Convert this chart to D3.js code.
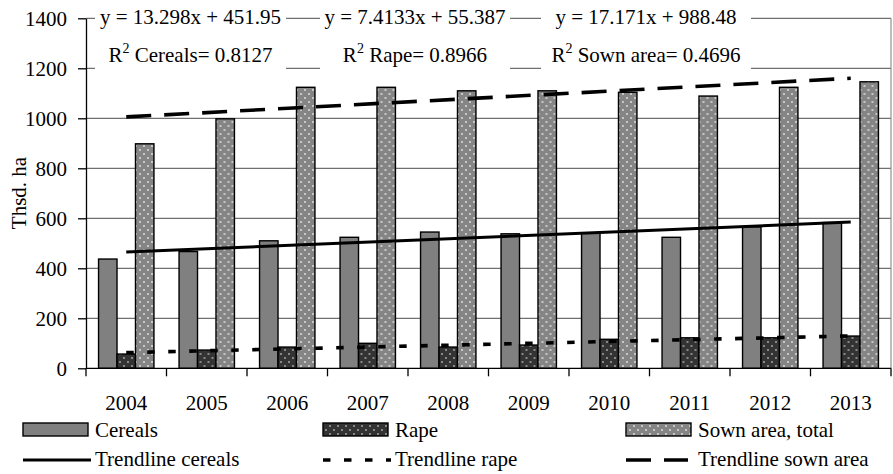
<!DOCTYPE html>
<html>
<head>
<meta charset="utf-8">
<script src="https://cdn.jsdelivr.net/npm/d3@7"></script>
<style>
  body { margin: 0; background: #fff; }
  svg { display: block; font-family: "Liberation Serif", "Times New Roman", serif; }
</style>
</head>
<body>
<svg width="893" height="474"></svg>
<script>
const years = ["2004", "2005", "2006", "2007", "2008", "2009", "2010", "2011", "2012", "2013"];
const cereals = [437, 467, 510, 524, 545, 538, 540, 524, 566, 583];
const rape = [57, 73, 85, 100, 85, 93, 116, 122, 122, 129];
const sownArea = [898, 998, 1124, 1124, 1110, 1110, 1104, 1089, 1124, 1146];

// trendline values at first and last year (match the equations shown)
const trendCereals = [465.2, 584.9];
const trendRape = [62.8, 129.5];
const trendSown = [1005.7, 1160.2];

const yTicks = [0, 200, 400, 600, 800, 1000, 1200, 1400];

const equations = ["y = 13.298x + 451.95", "y = 7.4133x + 55.387", "y = 17.171x + 988.48"];
const r2Names = ["Cereals", "Rape", "Sown area"];
const r2Values = ["0.8127", "0.8966", "0.4696"];

const svg = d3.select("svg");
const plotLeft = 86, plotRight = 891, plotTop = 18.3, plotBottom = 368.3;

const x0 = d3.scaleBand().domain(years).range([plotLeft, plotRight]).padding(0);
const seriesKeys = ["cereals", "rape", "sown"];
const x1 = d3.scaleBand().domain(seriesKeys).range([0, x0.bandwidth()]).paddingInner(0).paddingOuter(0.68);
const y = d3.scaleLinear().domain([0, 1400]).range([plotBottom, plotTop]);

// patterns
const defs = svg.append("defs");
function dots(id, bg, dot) {
  const p = defs.append("pattern").attr("id", id).attr("patternUnits", "userSpaceOnUse")
    .attr("width", 8).attr("height", 8);
  p.append("rect").attr("width", 8).attr("height", 8).attr("fill", bg);
  p.append("circle").attr("cx", 2).attr("cy", 2).attr("r", 0.9).attr("fill", dot);
  p.append("circle").attr("cx", 6).attr("cy", 6).attr("r", 0.9).attr("fill", dot);
}
dots("rapeFill", "#333", "#b0b0b0");
dots("sownFill", "#858585", "#e6e6e6");
const fills = { cereals: "#808080", rape: "url(#rapeFill)", sown: "url(#sownFill)" };

// gridlines
svg.append("g").selectAll("line").data(yTicks.slice(1)).join("line")
  .attr("x1", plotLeft).attr("x2", plotRight)
  .attr("y1", d => y(d)).attr("y2", d => y(d))
  .attr("stroke", "#707070").attr("stroke-width", 1.2);
svg.append("line").attr("x1", plotRight).attr("x2", plotRight).attr("y1", plotTop).attr("y2", plotBottom)
  .attr("stroke", "#909090").attr("stroke-width", 1.2);

// bars
const rows = years.map((yr, i) => ({ year: yr, cereals: cereals[i], rape: rape[i], sown: sownArea[i] }));
const groups = svg.append("g").selectAll("g").data(rows).join("g")
  .attr("transform", d => `translate(${x0(d.year)},0)`);
groups.selectAll("rect").data(d => seriesKeys.map(k => ({ key: k, value: d[k] }))).join("rect")
  .attr("x", d => x1(d.key))
  .attr("y", d => y(d.value))
  .attr("width", x1.bandwidth())
  .attr("height", d => y(0) - y(d.value))
  .attr("fill", d => fills[d.key])
  .attr("stroke", "#000").attr("stroke-width", 1.4);

// trendlines
const xc = yr => x0(yr) + x0.bandwidth() / 2;
function trend(vals, dash) {
  svg.append("line")
    .attr("x1", xc(years[0])).attr("x2", xc(years[years.length - 1]))
    .attr("y1", y(vals[0])).attr("y2", y(vals[1]))
    .attr("stroke", "#000").attr("stroke-width", dash ? 3.6 : 3)
    .attr("stroke-dasharray", dash);
}
trend(trendCereals, null);
trend(trendRape, "7.5,13.5");
trend(trendSown, "25,13");

// axes
const yAxis = svg.append("g").attr("transform", `translate(${plotLeft},0)`)
  .call(d3.axisLeft(y).tickValues(yTicks).tickFormat(d3.format("d"))
    .tickSize(8).tickPadding(11).tickSizeOuter(0));
yAxis.attr("font-family", null).attr("font-size", null);
yAxis.select(".domain").attr("stroke", "#000").attr("stroke-width", 1.3);
yAxis.selectAll("line").attr("stroke", "#000").attr("stroke-width", 1.3);
yAxis.selectAll("text").attr("font-size", 21).attr("fill", "#000");

const xAxis = svg.append("g").attr("transform", `translate(0,${plotBottom})`);
xAxis.append("line").attr("x1", plotLeft).attr("x2", plotRight).attr("stroke", "#000").attr("stroke-width", 1.3);
xAxis.selectAll(".tk").data(years.map(d => x0(d)).concat([plotRight])).join("line")
  .attr("class", "tk").attr("x1", d => d).attr("x2", d => d).attr("y1", 0).attr("y2", 8)
  .attr("stroke", "#000").attr("stroke-width", 1.3);
xAxis.selectAll("text").data(years).join("text")
  .attr("x", d => xc(d)).attr("y", 42).attr("text-anchor", "middle")
  .attr("font-size", 21).text(d => d);

svg.append("text").attr("transform", "translate(26,193) rotate(-90)")
  .attr("text-anchor", "middle").attr("font-size", 21).text("Thsd. ha");

// equation boxes
const boxes = [[95, 286], [320, 510], [541, 751]];
boxes.forEach((b, i) => {
  const cx = (b[0] + b[1]) / 2;
  svg.append("rect").attr("x", b[0]).attr("y", 0).attr("width", b[1] - b[0]).attr("height", 76).attr("fill", "#fff");
  svg.append("text").attr("x", cx).attr("y", 24).attr("text-anchor", "middle")
    .attr("font-size", 21).text(equations[i]);
  const t = svg.append("text").attr("x", cx).attr("y", 62).attr("text-anchor", "middle").attr("font-size", 21);
  t.append("tspan").text("R");
  t.append("tspan").attr("dy", -9).attr("font-size", 14).text("2");
  t.append("tspan").attr("dy", 9).text(" " + r2Names[i] + "= " + r2Values[i]);
});

// legend
const legendX = [23, 323, 626];
const barItems = [["cereals", "Cereals"], ["rape", "Rape"], ["sown", "Sown area, total"]];
const lineItems = [[null, "Trendline cereals"], ["7.5,13.5", "Trendline rape"], ["25,13", "Trendline sown area"]];
barItems.forEach((d, i) => {
  svg.append("rect").attr("x", legendX[i]).attr("y", 423).attr("width", 65).attr("height", 13)
    .attr("fill", fills[d[0]]).attr("stroke", "#000").attr("stroke-width", 1.4);
  svg.append("text").attr("x", legendX[i] + 72).attr("y", 437).attr("font-size", 21).text(d[1]);
});
lineItems.forEach((d, i) => {
  svg.append("line").attr("x1", legendX[i]).attr("x2", legendX[i] + (i === 2 ? 62 : 68))
    .attr("y1", 460).attr("y2", 460)
    .attr("stroke", "#000").attr("stroke-width", d[0] ? 3.6 : 3).attr("stroke-dasharray", d[0]);
  svg.append("text").attr("x", legendX[i] + 72).attr("y", 466).attr("font-size", 21).text(d[1]);
});
</script>
</body>
</html>
